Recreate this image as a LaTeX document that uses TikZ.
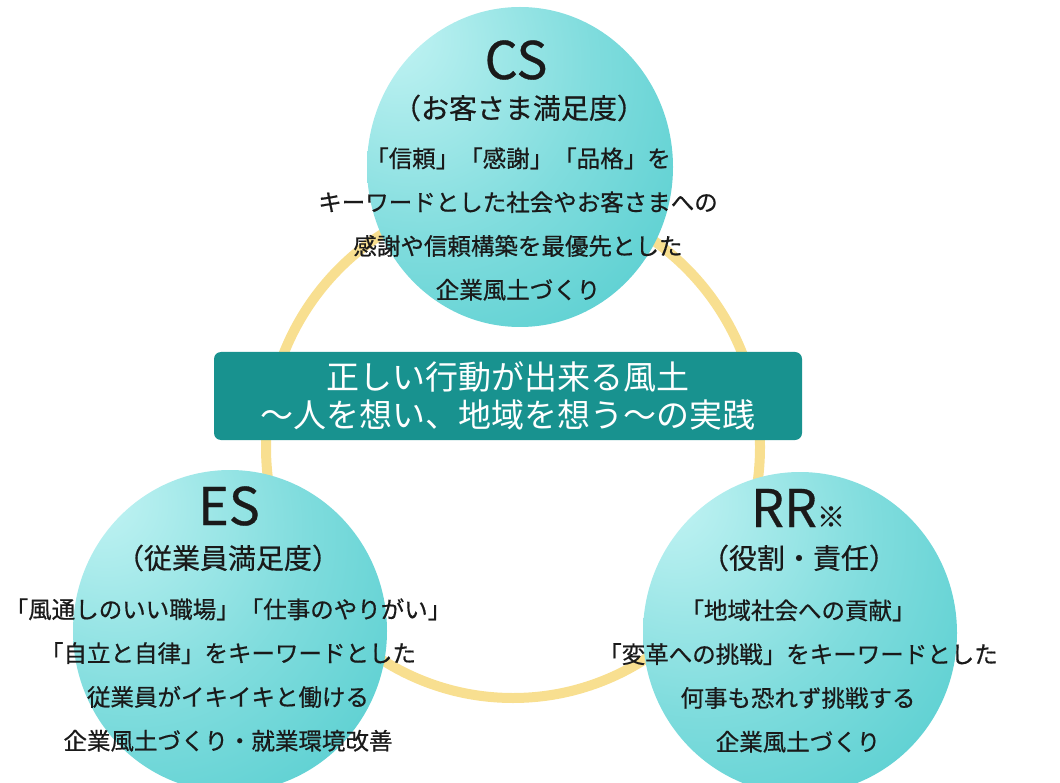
\documentclass[tikz,border=0pt]{standalone}
\usepackage{fontspec}
\setmainfont{Noto Sans CJK JP}
\newfontfamily\inkfont[FakeBold=0.6]{Noto Sans CJK JP}
\usetikzlibrary{shapes.geometric}
\definecolor{ballA}{HTML}{C4F4F4}
\definecolor{ballB}{HTML}{7FDCDD}
\definecolor{ballC}{HTML}{3CC5C7}
\definecolor{ballD}{HTML}{2FBEC0}
\definecolor{ringc}{HTML}{F8DF90}
\definecolor{boxc}{HTML}{18928F}
\definecolor{inkc}{HTML}{1A1A1A}
\pgfdeclareradialshading{ball}{\pgfpoint{-22bp}{22bp}}{color(0bp)=(ballA); color(28bp)=(ballB); color(62bp)=(ballC); color(100bp)=(ballD)}
\tikzset{
  ballnode/.style={ellipse, shade, shading=ball, draw=none, inner sep=0pt},
  ringline/.style={draw=ringc, line width=10pt},
  corebox/.style={rectangle, rounded corners=7pt, fill=boxc, draw=none, minimum width=588pt, minimum height=88pt, text=white, align=center, font=\fontsize{33}{38}\selectfont},
  ttl/.style={text=inkc, font=\inkfont\fontsize{52}{56}\selectfont, inner sep=0pt},
  sub/.style={text=inkc, font=\inkfont\fontsize{28}{32}\selectfont, inner sep=0pt},
  body/.style={text=inkc, align=center, font=\inkfont\fontsize{23.5}{43.8}\selectfont, inner sep=0pt}
}
\begin{document}
\begin{tikzpicture}[x=1pt,y=-1pt]
\useasboundingbox (0,0) rectangle (1060,783);
% ring
\draw[ringline] (513,447) ellipse [x radius=247, y radius=-251];
% circles
\node[ballnode, minimum width=306pt, minimum height=320pt] (cs) at (520,167) {};
\node[ballnode, minimum width=314pt, minimum height=322pt] (es) at (230,631) {};
\node[ballnode, minimum width=314pt, minimum height=322pt] (rr) at (800,633) {};
% central box
\node[corebox] (core) at (508,396) {正しい行動が出来る風土\\～人を想い、地域を想う～の実践};
% CS texts
\node[ttl] (cst) at (516,60) {CS};
\node[sub] (css) at (519,108) {（お客さま満足度）};
\node[body] (csb) at (518,224) {「信頼」「感謝」「品格」を\\キーワードとした社会やお客さまへの\\感謝や信頼構築を最優先とした\\企業風土づくり};
% ES texts
\node[ttl] (est) at (229,506) {ES};
\node[sub] (ess) at (228,558) {（従業員満足度）};
\node[body] (esb) at (228,675) {「風通しのいい職場」「仕事のやりがい」\\「自立と自律」をキーワードとした\\従業員がイキイキと働ける\\企業風土づくり・就業環境改善};
% RR texts
\node[ttl] (rrt) at (798,508) {RR{\fontsize{28}{30}\selectfont ※}};
\node[sub] (rrs) at (799,558) {（役割・責任）};
\node[body] (rrb) at (798,676) {「地域社会への貢献」\\「変革への挑戦」をキーワードとした\\何事も恐れず挑戦する\\企業風土づくり};
\end{tikzpicture}
\end{document}
